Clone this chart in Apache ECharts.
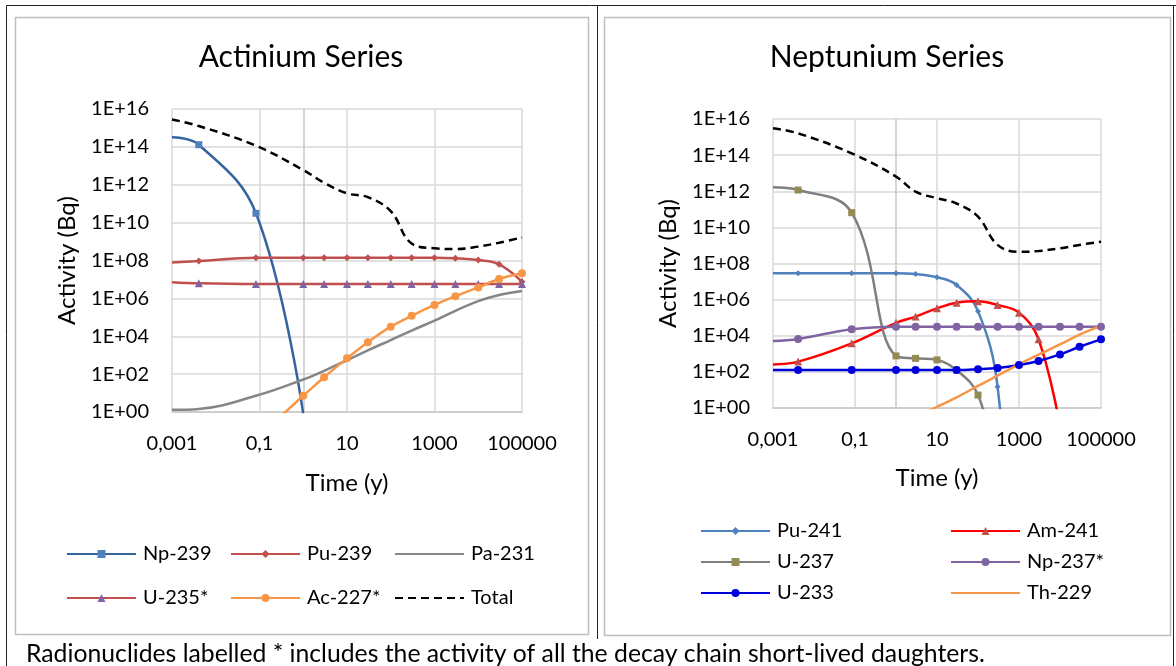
<!DOCTYPE html>
<html>
<head>
<meta charset="utf-8">
<script src="https://cdn.jsdelivr.net/npm/echarts@6/dist/echarts.min.js"></script>
<style>
html,body{margin:0;padding:0;background:#fff;}
#c{width:1176px;height:666px;}
</style>
</head>
<body>
<div id="c"></div>
<script>
// ---------- data ----------
const times = [0.001, 0.0041, 0.083, 1, 3, 10, 30, 100, 300, 1000, 3000, 10000, 30000, 100000];
const xTickValues = [0.001, 0.1, 10, 1000, 100000];
const xTickLabels = ['0,001', '0,1', '10', '1000', '100000'];
const yTickLabels = ['1E+00', '1E+02', '1E+04', '1E+06', '1E+08', '1E+10', '1E+12', '1E+14', '1E+16'];

// Actinium series (Bq)
const np239 = [3.2e14, 1.3e14, 3.1e10, 0.8, null, null, null, null, null, null, null, null, null, null];
const pu239 = [7.9e7, 9.3e7, 1.4e8, 1.4e8, 1.4e8, 1.4e8, 1.4e8, 1.4e8, 1.4e8, 1.4e8, 1.3e8, 1.05e8, 6.3e7, 7.6e6];
const pa231 = [1.3, 1.45, 7.2, 52, 150, 540, 1800, 6300, 2.0e4, 6.6e4, 2.2e5, 7.1e5, 1.5e6, 2.45e6];
const u235 = [7.2e6, 6.3e6, 5.8e6, 5.8e6, 5.8e6, 5.8e6, 5.8e6, 5.8e6, 5.8e6, 5.8e6, 5.8e6, 5.8e6, 5.8e6, 5.8e6];
const ac227 = [3.2e-5, 3.2e-4, 0.043, 7.2, 68, 680, 4800, 3.2e4, 1.2e5, 4.5e5, 1.3e6, 3.8e6, 1.05e7, 2.1e7];
const totalAc = [2.8e15, 1.26e15, 1.15e14, 6.0e12, 1.26e12, 3.5e11, 2.2e11, 4.0e10, 7.9e8, 4.4e8, 4.0e8, 5.4e8, 8.7e8, 1.66e9];

// Neptunium series (Bq)
const pu241 = [2.9e7, 2.9e7, 2.9e7, 2.9e7, 2.6e7, 1.74e7, 6.5e6, 2.3e5, 15, 2.5e-14, null, null, null, null];
const am241 = [260, 370, 3800, 5.2e4, 1.15e5, 3.3e5, 6.8e5, 8.1e5, 5.0e5, 1.9e5, 6300, 0.1, null, null];
const u237 = [1.66e12, 1.17e12, 6.5e10, 760, 560, 460, 126, 5.2, 4e-4, null, null, null, null, null];
const np237 = [5100, 6600, 2.3e4, 3.2e4, 3.2e4, 3.2e4, 3.2e4, 3.2e4, 3.2e4, 3.2e4, 3.2e4, 3.2e4, 3.2e4, 3.2e4];
const u233 = [126, 126, 126, 126, 126, 126, 126, 140, 165, 240, 400, 930, 2450, 6300];
const th229 = [2e-5, 1e-4, 0.005, 0.1, 0.34, 1.17, 3.9, 16.6, 62, 263, 890, 3300, 1.15e4, 3.5e4];
const totalNp = [3.1e15, 1.6e15, 1.26e14, 6.5e12, 9.5e11, 4.1e11, 2.1e11, 3.9e10, 1.07e9, 4.4e8, 4.9e8, 6.9e8, 1.07e9, 1.6e9];

const footnote = 'Radionuclides labelled * includes the activity of all the decay chain short-lived daughters.';

// ---------- build ----------
const FONT = 'Lato';
const lg = v => Math.log10(v);
function pts(arr) {
  return times.map((t, i) => {
    const v = arr[i];
    const y = (v == null) ? '-' : lg(v);
    if (i === 0) return { value: [lg(t), y], symbol: 'none' };
    return [lg(t), y];
  });
}
function xLabel(v) {
  const i = xTickValues.findIndex(t => Math.abs(lg(t) - v) < 1e-6);
  return i >= 0 ? xTickLabels[i] : '';
}
function yLabel(v) {
  const i = Math.round(v / 2);
  return yTickLabels[i] || '';
}
function line(name, arr, gi, color, lineColor, symbol, size, dashed) {
  return {
    name: name, type: 'line', xAxisIndex: gi, yAxisIndex: gi,
    data: pts(arr), smooth: 0.4, clip: true,
    symbol: symbol, symbolSize: size, showSymbol: symbol !== 'none',
    itemStyle: { color: color, borderWidth: 0 },
    lineStyle: { color: lineColor, width: 2.5, type: dashed ? [8, 5] : 'solid' },
    emphasis: { disabled: true }
  };
}
function xAxis(gi, gap) {
  return {
    type: 'value', gridIndex: gi, min: -3, max: 5, interval: 2,
    name: 'Time (y)', nameLocation: 'middle', nameGap: gap,
    nameTextStyle: { fontSize: 24, color: '#000', fontFamily: FONT },
    axisLine: { show: true, lineStyle: { color: '#C8C8C8', width: 1.5 } },
    axisTick: { show: false },
    axisLabel: { formatter: xLabel, fontSize: 20, color: '#000', fontFamily: FONT, margin: 22 },
    splitLine: { show: true, lineStyle: { color: '#D9D9D9', width: 1.5 } }
  };
}
function yAxis(gi) {
  return {
    type: 'value', gridIndex: gi, min: 0, max: 16, interval: 2,
    name: 'Activity (Bq)', nameLocation: 'middle', nameGap: 93, nameRotate: 90,
    nameTextStyle: { fontSize: 24, color: '#000', fontFamily: FONT },
    axisLine: { show: true, lineStyle: { color: '#C8C8C8', width: 1.5 } },
    axisTick: { show: false },
    axisLabel: { formatter: yLabel, fontSize: 20, color: '#000', fontFamily: FONT, margin: 23 },
    splitLine: { show: true, lineStyle: { color: '#D9D9D9', width: 1.5 } }
  };
}
function legendItem(name, left, centerY, hideSymbol) {
  const d = hideSymbol ? { name: name, itemStyle: { opacity: 0 } } : { name: name };
  return {
    data: [d], left: left, top: centerY - 11, padding: 0,
    itemWidth: 69, itemHeight: 10, selectedMode: false,
    textStyle: { fontSize: 20, color: '#000', fontFamily: FONT, padding: [0, 0, 0, 2] }
  };
}

const option = {
  animation: false,
  backgroundColor: '#fff',
  textStyle: { fontFamily: FONT },
  title: [
    { text: 'Actinium Series', left: 301, top: 42, textAlign: 'center', padding: 0,
      textStyle: { fontSize: 30, fontWeight: 'normal', color: '#000', fontFamily: FONT } },
    { text: 'Neptunium Series', left: 887, top: 42, textAlign: 'center', padding: 0,
      textStyle: { fontSize: 30, fontWeight: 'normal', color: '#000', fontFamily: FONT } }
  ],
  grid: [
    { left: 172, top: 109, width: 350, height: 303 },
    { left: 773, top: 119, width: 328, height: 289 }
  ],
  xAxis: [xAxis(0, 59), xAxis(1, 58)],
  yAxis: [yAxis(0), yAxis(1)],
  legend: [
    legendItem('Np-239', 66, 555),
    legendItem('Pu-239', 230, 555),
    legendItem('Pa-231', 394, 555, true),
    legendItem('U-235*', 66, 599),
    legendItem('Ac-227*', 230, 599),
    legendItem('Total', 394, 599, true),
    legendItem('Pu-241', 700, 532),
    legendItem('Am-241', 950, 532),
    legendItem('U-237', 700, 563),
    legendItem('Np-237*', 950, 563),
    legendItem('U-233', 700, 594),
    legendItem('Th-229', 950, 594, true)
  ],
  series: [
    line('Np-239', np239, 0, '#4F81BD', '#3464A0', 'rect', 7),
    line('Pu-239', pu239, 0, '#C0504D', '#C0504D', 'diamond', 7),
    line('Pa-231', pa231, 0, '#868686', '#868686', 'none', 0),
    line('U-235*', u235, 0, '#8064A2', '#C0504D', 'triangle', 8),
    line('Ac-227*', ac227, 0, '#F79646', '#F79646', 'circle', 8),
    line('Total', totalAc, 0, '#000000', '#000000', 'none', 0, true),
    line('Pu-241', pu241, 1, '#4F81BD', '#4F81BD', 'diamond', 6),
    line('Am-241', am241, 1, '#C0504D', '#FF0000', 'triangle', 8),
    line('U-237', u237, 1, '#948A54', '#7F7F7F', 'rect', 7),
    line('Np-237*', np237, 1, '#8064A2', '#8064A2', 'circle', 8),
    line('U-233', u233, 1, '#0000DD', '#0000DD', 'circle', 8),
    line('Th-229', th229, 1, '#F79646', '#F79646', 'none', 0),
    line('Total (Np)', totalNp, 1, '#000000', '#000000', 'none', 0, true)
  ],
  graphic: [
    { type: 'rect', silent: true, z: -10, shape: { x: 15.5, y: 17.5, width: 573, height: 617 },
      style: { fill: 'none', stroke: '#BFBFBF', lineWidth: 1.5 } },
    { type: 'rect', silent: true, z: -10, shape: { x: 604.5, y: 17.5, width: 566, height: 618 },
      style: { fill: 'none', stroke: '#BFBFBF', lineWidth: 1.5 } },
    { type: 'line', silent: true, shape: { x1: 6.5, y1: 5.5, x2: 1176, y2: 5.5 }, style: { stroke: '#222', lineWidth: 1 } },
    { type: 'line', silent: true, shape: { x1: 6.5, y1: 5.5, x2: 6.5, y2: 666 }, style: { stroke: '#222', lineWidth: 1 } },
    { type: 'line', silent: true, shape: { x1: 1173.5, y1: 5.5, x2: 1173.5, y2: 666 }, style: { stroke: '#222', lineWidth: 1 } },
    { type: 'line', silent: true, shape: { x1: 597.5, y1: 5.5, x2: 597.5, y2: 639 }, style: { stroke: '#222', lineWidth: 1 } },
    { type: 'text', silent: true, x: 26, y: 654,
      style: { text: footnote, fontSize: 24.75, fontFamily: FONT, fill: '#000', verticalAlign: 'middle', textVerticalAlign: 'middle' } }
  ]
};

const chart = echarts.init(document.getElementById('c'), null, { renderer: 'canvas', width: 1176, height: 666 });
chart.setOption(option);
</script>
</body>
</html>
